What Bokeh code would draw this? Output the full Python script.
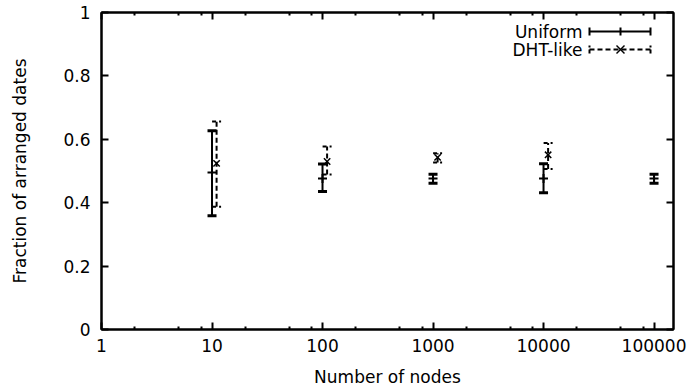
from bokeh.plotting import figure
from bokeh.models import (Range1d, FixedTicker, LogAxis, LinearAxis, CustomJSTickFormatter,
                          Arrow, Label, ColumnDataSource)
from bokeh.embed import file_html
from bokeh.resources import INLINE

# ---- data ----
nodes = [10, 100, 1000, 10000, 100000]
uni_mean = [0.495, 0.476, 0.476, 0.476, 0.476]
uni_low = [0.359, 0.435, 0.461, 0.431, 0.461]
uni_high = [0.627, 0.522, 0.490, 0.523, 0.490]

dht_nodes = [11, 110, 1100, 11000]
dht_mean = [0.524, 0.530, 0.543, 0.551]
dht_low = [0.387, 0.489, 0.527, 0.506]
dht_high = [0.656, 0.577, 0.556, 0.588]

x_ticks = [1, 10, 100, 1000, 10000, 100000]
x_minor = [m * d for d in [1, 10, 100, 1000, 10000, 100000] for m in (2, 5, 8)]
y_ticks = [0, 0.2, 0.4, 0.6, 0.8, 1]

FONT = "DejaVu Sans"
FS = "17px"

p = figure(width=689, height=387, frame_width=572, frame_height=317,
           x_axis_type="log", output_backend="svg",
           toolbar_location=None, x_range=Range1d(1, 150000), y_range=Range1d(0, 1),
           min_border_left=101, min_border_right=16, min_border_top=12, min_border_bottom=58)
p.background_fill_color = "white"
p.border_fill_color = "white"
p.grid.visible = False
p.outline_line_color = "black"
p.outline_line_width = 2

fmt = CustomJSTickFormatter(code="return String(Math.round(tick));")
blank = CustomJSTickFormatter(code="return '';")

def style_axis(ax, show_labels):
    ax.axis_line_width = 2
    ax.axis_line_color = "black"
    ax.major_tick_in = 7
    ax.major_tick_out = 0
    ax.minor_tick_in = 3
    ax.minor_tick_out = 0
    ax.major_tick_line_width = 2
    ax.minor_tick_line_width = 2
    ax.major_label_text_font = FONT
    ax.major_label_text_font_size = FS if show_labels else "1px"
    ax.major_label_text_color = "black"
    ax.axis_label_text_font = FONT
    ax.axis_label_text_font_size = FS
    ax.axis_label_text_font_style = "normal"
    ax.axis_label_text_color = "black"
    if not show_labels:
        ax.major_label_standoff = 0

xax = p.xaxis[0]
xax.ticker = FixedTicker(ticks=x_ticks, minor_ticks=x_minor)
xax.formatter = fmt
style_axis(xax, True)
xax.axis_label = "Number of nodes"
xax.major_label_standoff = 9
xax.axis_label_standoff = 12

yax = p.yaxis[0]
yax.ticker = FixedTicker(ticks=y_ticks, minor_ticks=[])
style_axis(yax, True)
yax.axis_label = "Fraction of arranged dates"
yax.major_label_standoff = 11
yax.axis_label_standoff = 30

top = LogAxis(ticker=FixedTicker(ticks=x_ticks, minor_ticks=x_minor), formatter=blank)
style_axis(top, False)
p.add_layout(top, "above")
right = LinearAxis(ticker=FixedTicker(ticks=y_ticks, minor_ticks=[]), formatter=blank)
style_axis(right, False)
p.add_layout(right, "right")

# ---- Uniform series ----
us = ColumnDataSource(dict(x=nodes, m=uni_mean, lo=uni_low, hi=uni_high))
p.segment(x0="x", y0="lo", x1="x", y1="hi", source=us, line_color="black", line_width=2)
p.scatter(x="x", y="lo", source=us, marker="dash", size=9, line_color="black", line_width=3)
p.scatter(x="x", y="hi", source=us, marker="dash", size=9, line_color="black", line_width=3)
p.scatter(x="x", y="m", source=us, marker="cross", size=9, line_color="black", line_width=2)

# ---- DHT-like series ----
ds = ColumnDataSource(dict(x=dht_nodes, m=dht_mean, lo=dht_low, hi=dht_high))
p.segment(x0="x", y0="lo", x1="x", y1="hi", source=ds, line_color="black", line_width=2,
          line_dash="5 3")
p.scatter(x="x", y="lo", source=ds, marker="dash", size=9, line_color="black", line_width=2,
          line_dash="4 3")
p.scatter(x="x", y="hi", source=ds, marker="dash", size=9, line_color="black", line_width=2,
          line_dash="4 3")
p.scatter(x="x", y="m", source=ds, marker="x", size=9, line_color="black", line_width=1.5)

# ---- legend (drawn in screen units relative to the frame) ----
def seg(x0, y0, x1, y1, dash="solid", w=2):
    p.add_layout(Arrow(x_start=x0, y_start=y0, x_end=x1, y_end=y1,
                       start_units="screen", end_units="screen", end=None, start=None,
                       line_color="black", line_width=w, line_dash=dash))

lx0, lx1, lxm = 488, 549, 519
ly1, ly2 = 298, 280
p.add_layout(Label(x=481, y=ly1, x_units="screen", y_units="screen", text="Uniform",
                   text_align="right", text_baseline="middle", text_font=FONT,
                   text_font_size=FS, text_color="black"))
p.add_layout(Label(x=481, y=ly2, x_units="screen", y_units="screen", text="DHT-like",
                   text_align="right", text_baseline="middle", text_font=FONT,
                   text_font_size=FS, text_color="black"))
seg(lx0, ly1, lx1, ly1)
seg(lx0, ly1 - 4, lx0, ly1 + 4)
seg(lx1, ly1 - 4, lx1, ly1 + 4)
seg(lxm, ly1 - 4, lxm, ly1 + 4)
seg(lx0, ly2, lx1, ly2, dash="5 3")
seg(lx0, ly2 - 4, lx0, ly2 + 4, dash="4 2")
seg(lx1, ly2 - 4, lx1, ly2 + 4, dash="4 2")
seg(lxm - 4, ly2 - 4, lxm + 4, ly2 + 4, w=1.5)
seg(lxm - 4, ly2 + 4, lxm + 4, ly2 - 4, w=1.5)

open("out.html", "w").write(file_html(p, INLINE))
